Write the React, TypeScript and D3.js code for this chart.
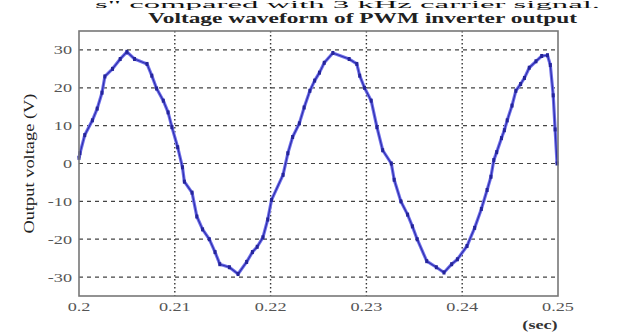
import React from "react";
import * as d3 from "d3";

// Waveform samples: time (s) and output voltage (V)
const times = [
  0.2, 0.2001, 0.2006, 0.2014, 0.2019, 0.2024, 0.2027, 0.2035, 0.2043, 0.205,
  0.2058, 0.2071, 0.2076, 0.2081, 0.2088, 0.2093, 0.2097, 0.2103, 0.2108, 0.211,
  0.2118, 0.2123, 0.2129, 0.2136, 0.2142, 0.2147, 0.2157, 0.2166, 0.2175, 0.2181,
  0.2186, 0.2192, 0.2197, 0.2201, 0.2213, 0.2218, 0.2223, 0.223, 0.2235, 0.2241,
  0.2246, 0.2251, 0.2256, 0.2265, 0.2282, 0.229, 0.2293, 0.2298, 0.2305, 0.2311,
  0.2317, 0.2326, 0.2329, 0.2336, 0.2343, 0.2348, 0.2353, 0.2363, 0.2373, 0.2381,
  0.2389, 0.2395, 0.2405, 0.2413, 0.242, 0.2426, 0.243, 0.2433, 0.2436, 0.2441,
  0.2444, 0.2447, 0.2452, 0.2456, 0.2461, 0.2465, 0.247, 0.2477, 0.2483, 0.2489,
  0.2492, 0.2495, 0.2497, 0.2499,
];
const volts = [
  1.5, 2.7, 7.5, 11.4, 14.5, 18.7, 23, 25, 27.6, 29.5,
  27.6, 26.3, 23.2, 19.8, 16.6, 13.5, 9.6, 4.3, -1, -4.8,
  -7.7, -14, -17.4, -20, -23.4, -26.6, -27.4, -29.2, -26, -23.4,
  -22, -19.5, -14.8, -9.6, -3, 2.7, 7, 10.6, 14.8, 19.2,
  21.9, 24, 26.6, 29.2, 27.6, 26.3, 23.2, 20, 16.6, 9.6,
  3.5, 0, -4.3, -10, -13.5, -16.6, -20, -25.8, -27.4, -28.8,
  -26.6, -25.3, -21.8, -17, -12, -7, -3.5, 0.9, 3, 6.7,
  8.8, 11.4, 15.3, 19.2, 21, 22.6, 25.3, 27, 28.4, 28.6,
  26, 18, 9, 0,
];

const xTicks = [0.2, 0.21, 0.22, 0.23, 0.24, 0.25];
const xTickLabels = ["0.2", "0.21", "0.22", "0.23", "0.24", "0.25"];
const yTicks = [30, 20, 10, 0, -10, -20, -30];

const W = 629;
const H = 336;
const left = 79;
const right = 558;
const top = 31;
const bottom = 296;
const font = "Liberation Serif";

export default function App() {
  const x = d3.scaleLinear().domain([0.2, 0.25]).range([left, right]);
  const y = d3.scaleLinear().domain([-35, 35]).range([bottom, top]);

  const pts: [number, number][] = times.map((t, i) => [x(t), y(volts[i])]);
  const line = d3.line<[number, number]>()(pts) || "";

  return (
    <div style={{ position: "fixed", left: 0, top: 0 }}>
      <svg width={W} height={H} style={{ display: "block", background: "#fff" }}>
        {/* caption of the page above, cut by the crop */}
        <text
          x={95}
          y={8}
          fontFamily={font}
          fontSize={10.5}
          fill="#111"
          textLength={505}
          lengthAdjust="spacingAndGlyphs"
        >
          s" compared with 3 kHz carrier signal.
        </text>

        <text
          x={148}
          y={23}
          fontFamily={font}
          fontWeight="bold"
          fontSize={15}
          fill="#222"
          textLength={429}
          lengthAdjust="spacingAndGlyphs"
        >
          Voltage waveform of PWM inverter output
        </text>

        {/* grid */}
        {yTicks.map((v) => (
          <line
            key={"gy" + v}
            x1={left}
            x2={right}
            y1={y(v)}
            y2={y(v)}
            stroke="#444"
            strokeWidth={1.2}
            strokeDasharray="4,4"
          />
        ))}
        {xTicks.slice(1, -1).map((t) => (
          <line
            key={"gx" + t}
            x1={x(t)}
            x2={x(t)}
            y1={top}
            y2={bottom}
            stroke="#333"
            strokeWidth={1.4}
            strokeDasharray="1.5,2.5"
          />
        ))}

        {/* waveform */}
        <path d={line} fill="none" stroke="#7070ea" strokeWidth={3.2} strokeLinejoin="round" />
        <path d={line} fill="none" stroke="#3030b0" strokeWidth={1.2} strokeLinejoin="round" />
        {pts.map(([px, py], i) => (
          <rect key={i} x={px - 1.5} y={py - 2} width={3} height={4} fill="#25259a" />
        ))}

        {/* frame */}
        <rect
          x={left}
          y={top}
          width={right - left}
          height={bottom - top}
          fill="none"
          stroke="#777"
          strokeWidth={1.6}
        />

        {/* y ticks */}
        {yTicks.map((v) => (
          <text
            key={"ty" + v}
            transform={`translate(${left - 7},${y(v)}) scale(1.4,1)`}
            dy="0.35em"
            textAnchor="end"
            fontFamily={font}
            fontSize={13}
            fill="#555"
          >
            {v}
          </text>
        ))}
        {/* x ticks */}
        {xTicks.map((t, i) => (
          <text
            key={"tx" + t}
            transform={`translate(${x(t)},${311}) scale(1.4,1)`}
            textAnchor="middle"
            fontFamily={font}
            fontSize={13}
            fill="#555"
          >
            {xTickLabels[i]}
          </text>
        ))}

        <text
          transform="translate(540,329) scale(1.4,1)"
          textAnchor="middle"
          fontFamily={font}
          fontWeight="bold"
          fontSize={13}
          fill="#333"
        >
          (sec)
        </text>

        <text
          transform={`translate(34,${y(0)}) rotate(-90)`}
          x={-70}
          fontFamily={font}
          fontSize={15}
          fill="#222"
          textLength={140}
          lengthAdjust="spacingAndGlyphs"
        >
          Output voltage (V)
        </text>
      </svg>
    </div>
  );
}
